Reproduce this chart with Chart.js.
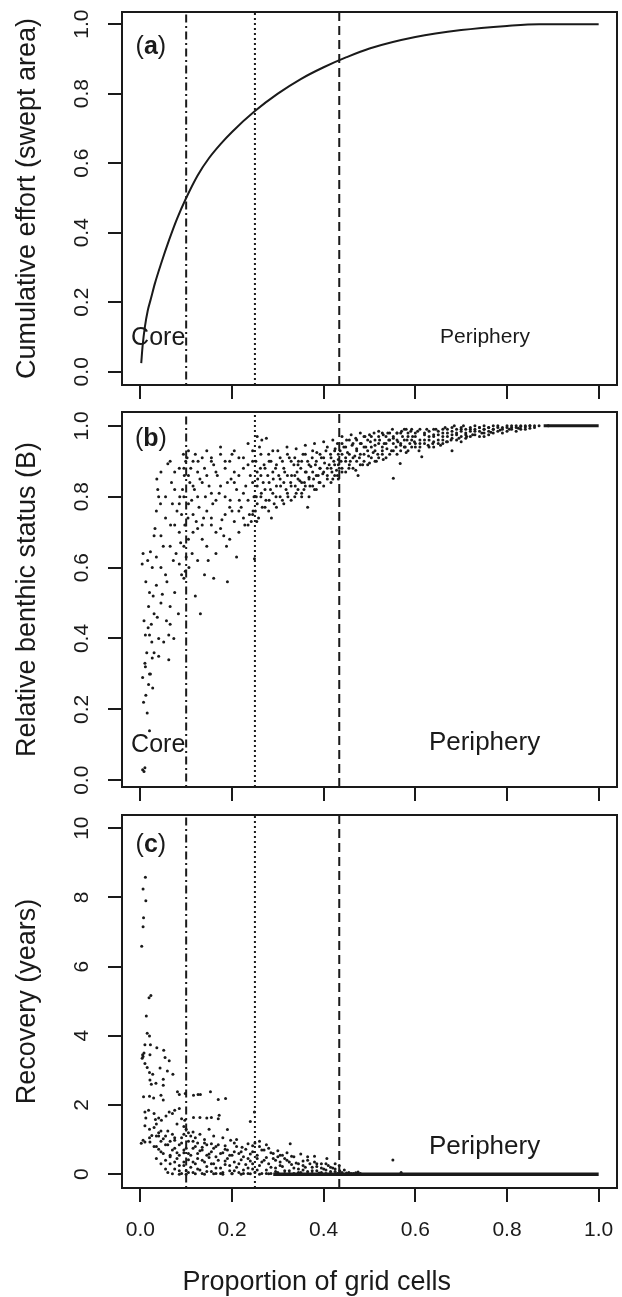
<!DOCTYPE html>
<html>
<head>
<meta charset="utf-8">
<script src="https://cdn.jsdelivr.net/npm/chart.js@4.4.1/dist/chart.umd.min.js"></script>
<style>
  body { margin: 0; background: #fff; }
  #wrap { position: relative; width: 622px; height: 1297px; }
  canvas { position: absolute; left: 0; }
</style>
</head>
<body>
<div id="wrap">
  <canvas id="panelA" width="622" height="400" style="top:0px"></canvas>
  <canvas id="panelB" width="622" height="410" style="top:395px"></canvas>
  <canvas id="panelC" width="622" height="497" style="top:800px"></canvas>
</div>
<script>
// ticks
const xTicks = [0, 0.2, 0.4, 0.6, 0.8, 1.0];
const xTickLabels = ['0.0', '0.2', '0.4', '0.6', '0.8', '1.0'];
const fracTicks = [0, 0.2, 0.4, 0.6, 0.8, 1.0];
const fracLabels = ['0.0', '0.2', '0.4', '0.6', '0.8', '1.0'];
const yearTicks = [0, 2, 4, 6, 8, 10];
const yearLabels = ['0', '2', '4', '6', '8', '10'];

// vertical threshold lines (x position)
const dashDotAt = 0.1;
const dottedAt = 0.25;
const dashedAt = 0.434;

// (a) cumulative effort curve
const effortCurve = [
  [0.002, 0.025], [0.005, 0.075], [0.01, 0.13], [0.016, 0.175], [0.023, 0.21], [0.032, 0.255],
  [0.045, 0.31], [0.063, 0.38], [0.08, 0.44], [0.1, 0.5], [0.125, 0.565], [0.15, 0.615],
  [0.175, 0.655], [0.2, 0.69], [0.25, 0.75], [0.3, 0.8], [0.35, 0.842], [0.4, 0.876],
  [0.45, 0.905], [0.5, 0.93], [0.6, 0.963], [0.7, 0.983], [0.8, 0.995], [0.87, 1.0], [1.0, 1.0]
];

// (b) relative benthic status per grid cell
const benthicPts = [
  [0.005,0.03],[0.008,0.025],[0.01,0.035],[0.007,0.22],[0.015,0.19],[0.02,0.14],[0.012,0.24],[0.018,0.27],
  [0.005,0.29],[0.01,0.33],[0.022,0.3],[0.014,0.36],[0.025,0.39],[0.02,0.41],[0.008,0.45],[0.018,0.49],
  [0.028,0.52],[0.012,0.56],[0.004,0.61],[0.006,0.64],[0.016,0.62],[0.022,0.645],[0.026,0.6],[0.02,0.53],
  [0.03,0.47],[0.024,0.44],[0.03,0.36],[0.027,0.26],[0.011,0.41],[0.017,0.43],
  [0.032,0.71],[0.036,0.85],[0.04,0.8],[0.044,0.78],[0.038,0.82],[0.03,0.69],[0.048,0.525],[0.037,0.46],
  [0.04,0.4],[0.051,0.39],[0.062,0.41],[0.073,0.4],[0.026,0.345],[0.04,0.35],[0.062,0.34],[0.011,0.32],
  [0.02,0.3],[0.06,0.893],[0.055,0.74],[0.05,0.66],[0.045,0.6],[0.058,0.56],[0.066,0.72],[0.07,0.78],
  [0.068,0.84],[0.075,0.87],[0.078,0.64],[0.083,0.47],[0.085,0.7],[0.088,0.67],[0.09,0.58],[0.095,0.57],
  [0.098,0.59],[0.092,0.82],[0.096,0.86],[0.099,0.9],[0.094,0.92],[0.08,0.76],[0.072,0.62],[0.065,0.49],
  [0.057,0.45],[0.086,0.8],[0.09,0.75],[0.097,0.72],[0.1,0.63],
  [0.035,0.55],[0.035,0.63],[0.035,0.76],[0.045,0.5],[0.045,0.69],[0.045,0.87],[0.055,0.58],[0.055,0.8],
  [0.065,0.44],[0.065,0.66],[0.065,0.9],[0.075,0.53],[0.075,0.72],[0.075,0.82],[0.085,0.61],[0.085,0.78],
  [0.085,0.88],[0.095,0.66],[0.095,0.8],[0.095,0.88],
  [0.102,0.91],[0.105,0.93],[0.12,0.92],[0.145,0.93],[0.175,0.94],[0.2,0.92],[0.11,0.88],[0.125,0.87],
  [0.14,0.88],[0.16,0.89],[0.185,0.9],[0.215,0.91],[0.235,0.95],[0.245,0.93],[0.108,0.84],[0.118,0.82],
  [0.13,0.85],[0.15,0.83],[0.168,0.86],[0.19,0.84],[0.205,0.87],[0.225,0.88],[0.24,0.86],[0.112,0.79],
  [0.128,0.77],[0.142,0.8],[0.158,0.78],[0.172,0.81],[0.196,0.79],[0.21,0.82],[0.23,0.83],[0.248,0.8],
  [0.104,0.74],[0.122,0.73],[0.138,0.74],[0.155,0.72],[0.178,0.735],[0.2,0.76],[0.22,0.77],[0.238,0.75],
  [0.246,0.76],[0.115,0.7],[0.135,0.68],[0.165,0.7],[0.188,0.66],[0.21,0.63],[0.12,0.52],[0.131,0.47],
  [0.14,0.58],[0.16,0.57],[0.19,0.56],[0.249,0.625],[0.106,0.6],[0.113,0.64],[0.148,0.62],[0.182,0.69],
  [0.228,0.72],[0.242,0.73],[0.216,0.79],[0.198,0.85],[0.126,0.9],[0.155,0.91],
  [0.105,0.68],[0.105,0.78],[0.105,0.86],[0.115,0.75],[0.115,0.83],[0.115,0.9],[0.125,0.62],[0.125,0.71],
  [0.125,0.8],[0.135,0.72],[0.135,0.84],[0.135,0.91],[0.145,0.66],[0.145,0.76],[0.145,0.86],[0.155,0.74],
  [0.155,0.81],[0.155,0.9],[0.165,0.64],[0.165,0.79],[0.165,0.87],[0.175,0.71],[0.175,0.83],[0.175,0.92],
  [0.185,0.75],[0.185,0.8],[0.185,0.88],[0.195,0.68],[0.195,0.77],[0.195,0.9],[0.205,0.73],[0.205,0.84],
  [0.205,0.93],[0.215,0.7],[0.215,0.76],[0.215,0.86],[0.225,0.74],[0.225,0.81],[0.225,0.91],[0.235,0.72],
  [0.235,0.79],[0.235,0.89],[0.245,0.75],[0.245,0.84],[0.245,0.9]
];

// (b) the dense band towards the periphery
const benthicBandPts = [
  [0.255,0.97],[0.265,0.96],[0.275,0.965],[0.26,0.94],[0.28,0.92],[0.3,0.93],[0.32,0.94],[0.34,0.935],
  [0.36,0.945],[0.38,0.95],[0.4,0.955],[0.42,0.96],[0.43,0.95],
  [0.252,0.9],[0.262,0.88],[0.27,0.89],[0.285,0.9],[0.295,0.88],[0.31,0.9],[0.325,0.91],[0.335,0.89],
  [0.345,0.9],[0.355,0.92],[0.365,0.9],[0.375,0.91],[0.385,0.925],[0.395,0.91],[0.405,0.93],[0.415,0.92],
  [0.425,0.935],
  [0.256,0.85],[0.268,0.84],[0.278,0.86],[0.29,0.85],[0.302,0.86],[0.315,0.87],[0.33,0.86],[0.342,0.87],
  [0.35,0.88],[0.362,0.87],[0.372,0.885],[0.382,0.89],[0.392,0.88],[0.402,0.895],[0.412,0.89],[0.422,0.9],
  [0.432,0.905],
  [0.253,0.8],[0.264,0.81],[0.274,0.79],[0.284,0.82],[0.296,0.8],[0.306,0.83],[0.318,0.82],[0.328,0.84],
  [0.338,0.83],[0.348,0.845],[0.358,0.84],[0.368,0.855],[0.378,0.85],[0.388,0.86],[0.398,0.865],[0.408,0.86],
  [0.418,0.87],[0.428,0.875],
  [0.251,0.76],[0.258,0.74],[0.266,0.77],[0.28,0.76],[0.292,0.78],[0.31,0.79],[0.322,0.8],[0.34,0.81],
  [0.357,0.82],[0.37,0.83],[0.38,0.82],[0.39,0.84],[0.42,0.85],[0.43,0.86],[0.365,0.77],[0.352,0.8],
  [0.286,0.74],[0.254,0.73],[0.434,0.88],
  [0.255,0.78],[0.255,0.83],[0.255,0.87],[0.263,0.8],[0.263,0.86],[0.263,0.92],[0.272,0.77],[0.272,0.82],
  [0.272,0.88],[0.281,0.79],[0.281,0.84],[0.281,0.9],[0.289,0.81],[0.289,0.87],[0.289,0.93],[0.297,0.77],
  [0.297,0.83],[0.297,0.89],[0.305,0.8],[0.305,0.85],[0.305,0.91],[0.313,0.78],[0.313,0.84],[0.313,0.88],
  [0.321,0.81],[0.321,0.86],[0.321,0.92],[0.329,0.79],[0.329,0.83],[0.329,0.9],[0.337,0.8],[0.337,0.86],
  [0.337,0.91],[0.344,0.82],[0.344,0.85],[0.344,0.89],[0.352,0.81],[0.352,0.84],[0.352,0.9],[0.36,0.83],
  [0.36,0.87],[0.36,0.92],[0.368,0.8],[0.368,0.85],[0.368,0.89],[0.376,0.83],[0.376,0.87],[0.376,0.93],
  [0.384,0.82],[0.384,0.86],[0.384,0.9],[0.392,0.84],[0.392,0.88],[0.392,0.92],[0.4,0.83],[0.4,0.87],
  [0.4,0.91],[0.408,0.85],[0.408,0.88],[0.408,0.94],[0.416,0.84],[0.416,0.88],[0.416,0.91],[0.424,0.86],
  [0.424,0.89],[0.424,0.93],[0.432,0.85],[0.432,0.89],[0.432,0.92],
  [0.44,0.97],[0.45,0.96],[0.46,0.975],[0.47,0.965],[0.48,0.98],[0.49,0.97],[0.5,0.975],[0.51,0.98],
  [0.52,0.985],[0.53,0.975],[0.54,0.98],[0.55,0.99],[0.56,0.98],[0.57,0.985],[0.58,0.99],[0.59,0.985],
  [0.436,0.93],[0.444,0.94],[0.452,0.925],[0.462,0.945],[0.472,0.935],[0.482,0.95],[0.492,0.94],[0.502,0.955],
  [0.512,0.945],[0.522,0.96],[0.532,0.95],[0.542,0.96],[0.552,0.965],[0.562,0.955],[0.572,0.97],[0.582,0.96],
  [0.594,0.97],
  [0.438,0.9],[0.448,0.91],[0.458,0.9],[0.468,0.915],[0.478,0.91],[0.488,0.92],[0.498,0.915],[0.508,0.925],
  [0.518,0.92],[0.528,0.93],[0.538,0.935],[0.548,0.93],[0.558,0.94],[0.568,0.945],[0.578,0.94],[0.588,0.95],
  [0.598,0.955],
  [0.44,0.87],[0.455,0.88],[0.47,0.875],[0.485,0.89],[0.5,0.895],[0.515,0.9],[0.53,0.905],[0.552,0.852],
  [0.475,0.86],[0.567,0.894],[0.58,0.925],
  [0.44,0.88],[0.44,0.92],[0.44,0.95],[0.448,0.87],[0.448,0.9],[0.448,0.94],[0.456,0.89],[0.456,0.92],
  [0.456,0.96],[0.464,0.88],[0.464,0.91],[0.464,0.95],[0.472,0.9],[0.472,0.93],[0.472,0.96],[0.48,0.89],
  [0.48,0.92],[0.48,0.95],[0.488,0.9],[0.488,0.94],[0.488,0.97],[0.496,0.89],[0.496,0.93],[0.496,0.96],
  [0.504,0.91],[0.504,0.94],[0.504,0.97],[0.512,0.9],[0.512,0.93],[0.512,0.96],[0.52,0.91],[0.52,0.95],
  [0.52,0.97],[0.528,0.92],[0.528,0.94],[0.528,0.98],[0.536,0.91],[0.536,0.95],[0.536,0.97],[0.544,0.92],
  [0.544,0.96],[0.544,0.98],[0.552,0.93],[0.552,0.95],[0.552,0.97],[0.56,0.92],[0.56,0.96],[0.56,0.98],
  [0.568,0.93],[0.568,0.95],[0.568,0.98],[0.576,0.94],[0.576,0.96],[0.576,0.99],[0.584,0.93],[0.584,0.97],
  [0.584,0.98],[0.592,0.94],[0.592,0.96],[0.592,0.99],
  [0.6,0.94],[0.61,0.95],[0.614,0.913],[0.62,0.96],[0.63,0.97],[0.64,0.975],[0.65,0.96],[0.66,0.98],
  [0.67,0.97],[0.68,0.985],[0.69,0.975],[0.7,0.99],[0.71,0.98],[0.72,0.99],[0.73,0.985],[0.74,0.995],
  [0.75,0.99],[0.76,0.995],[0.77,0.99],[0.78,1.0],[0.79,0.995],[0.8,1.0],[0.81,0.995],[0.82,1.0],
  [0.83,0.998],[0.84,1.0],[0.85,1.0],[0.87,1.0],[0.89,1.0],
  [0.605,0.985],[0.625,0.99],[0.645,0.99],[0.665,0.995],[0.685,1.0],[0.705,1.0],
  [0.608,0.93],[0.628,0.945],[0.638,0.95],[0.655,0.945],[0.668,0.955],[0.678,0.96],[0.695,0.965],[0.712,0.97],
  [0.725,0.975],[0.745,0.98],[0.765,0.982],[0.785,0.988],[0.805,0.99],[0.825,0.993],
  [0.6,0.97],[0.62,0.975],[0.64,0.94],[0.66,0.95],[0.7,0.955],[0.75,0.97],[0.68,0.93],
  [0.6,0.95],[0.6,0.98],[0.61,0.94],[0.61,0.96],[0.61,0.99],[0.62,0.95],[0.62,0.98],[0.63,0.94],
  [0.63,0.96],[0.63,0.985],[0.64,0.955],[0.64,0.97],[0.64,0.99],[0.65,0.95],[0.65,0.975],[0.65,0.985],
  [0.66,0.96],[0.66,0.97],[0.66,0.99],[0.67,0.955],[0.67,0.98],[0.67,0.99],[0.68,0.965],[0.68,0.975],
  [0.68,0.995],[0.69,0.96],[0.69,0.98],[0.69,0.99],[0.7,0.97],[0.7,0.985],[0.7,0.995],[0.71,0.965],
  [0.71,0.975],[0.71,0.99],[0.72,0.97],[0.72,0.985],[0.72,0.995],[0.73,0.975],[0.73,0.99],[0.73,1.0],
  [0.74,0.97],[0.74,0.985],[0.74,0.995],[0.75,0.98],[0.75,0.99],[0.75,1.0],[0.76,0.975],[0.76,0.985],
  [0.76,0.995],[0.77,0.98],[0.77,0.99],[0.77,1.0],[0.78,0.985],[0.78,0.995],[0.79,0.98],[0.79,0.99],
  [0.8,0.985],[0.8,0.995],[0.81,0.99],[0.81,1.0],[0.82,0.985],[0.82,0.995],[0.83,0.99],[0.83,1.0],
  [0.84,0.99],[0.84,0.997],[0.85,0.993],[0.85,1.0],[0.86,0.995],[0.86,1.0]
];
// cells at full status on the right (drawn as a solid run)
const benthicFlat = [[0.88, 1.0], [1.0, 1.0]];

// (c) recovery time in years
const recoveryPts = [
  [0.011,8.58],[0.006,8.24],[0.012,7.9],[0.007,7.41],[0.006,7.15],[0.003,6.59],[0.019,5.1],[0.023,5.16],
  [0.013,4.57],[0.015,4.07],[0.02,3.99],[0.01,3.74],[0.022,3.74],[0.036,3.65],[0.051,3.58],[0.005,3.45],
  [0.006,3.4],[0.004,3.35],[0.008,3.5],[0.021,3.45],[0.054,3.37],[0.063,3.28],[0.01,3.2],[0.043,3.07],
  [0.059,2.98],[0.015,3.08],[0.02,2.94],[0.027,2.89],[0.05,2.74],[0.071,2.89],[0.034,2.63],[0.024,2.6],
  [0.021,2.72],[0.05,2.57],
  [0.007,2.24],[0.02,2.25],[0.029,2.2],[0.045,2.28],[0.085,2.3],[0.116,2.28],[0.131,2.3],[0.153,2.38],
  [0.186,2.19],[0.081,2.38],[0.098,2.33],[0.126,2.3],[0.05,2.14],[0.17,2.16],
  [0.01,1.8],[0.018,1.85],[0.03,1.75],[0.04,1.62],[0.046,1.56],[0.063,1.8],[0.07,1.75],[0.085,1.9],
  [0.09,1.6],[0.097,1.56],[0.116,1.64],[0.13,1.64],[0.145,1.62],[0.155,1.64],[0.17,1.6],[0.172,1.7],
  [0.249,1.8],[0.24,1.52],[0.033,1.58],[0.012,1.62],[0.056,1.68],[0.075,1.85],
  [0.15,1.3],[0.19,1.29],[0.01,1.4],[0.02,1.3],[0.03,1.35],[0.04,1.2],[0.055,1.1],[0.06,1.25],
  [0.07,1.15],[0.08,1.45],[0.09,1.05],[0.1,1.3],[0.105,1.2],[0.11,1.1],[0.12,1.05],[0.13,1.15],
  [0.14,1.0],[0.16,1.1],[0.18,1.05],[0.197,0.98],[0.21,1.0],[0.05,1.02],[0.025,1.12],[0.095,1.38],
  [0.115,1.22],[0.035,1.45],[0.04,1.1],[0.02,1.05],
  [0.002,0.89],[0.01,0.93],[0.006,0.98],[0.021,0.93],[0.03,0.8],[0.04,0.72],[0.05,0.6],[0.06,0.85],
  [0.07,0.7],[0.08,0.62],[0.09,0.9],[0.1,0.75],[0.11,0.55],[0.12,0.8],[0.13,0.68],[0.14,0.9],
  [0.15,0.58],[0.16,0.75],[0.17,0.85],[0.18,0.62],[0.19,0.7],[0.2,0.55],[0.21,0.8],[0.22,0.65],
  [0.23,0.72],[0.24,0.58],[0.25,0.9],[0.26,0.8],[0.27,0.7],[0.28,0.75],[0.29,0.6],[0.3,0.68],
  [0.31,0.55],[0.327,0.88],[0.32,0.62],[0.33,0.52],[0.26,0.95],[0.245,0.82],[0.235,0.88],[0.275,0.85],
  [0.045,0.95],[0.075,0.98],[0.115,0.95],[0.155,0.88],[0.205,0.9],[0.222,0.78],[0.185,0.82],[0.135,0.78],
  [0.095,0.62],[0.065,0.55],[0.35,0.58],[0.365,0.5],[0.38,0.52],[0.3,0.5]
];

// (c) the dense cloud near zero
const recoveryLowPts = [
  [0.055,0.4],[0.06,0.05],[0.065,0.3],[0.075,0.15],[0.08,0.45],[0.085,0.25],[0.09,0.02],[0.095,0.35],
  [0.1,0.1],[0.105,0.42],[0.11,0.2],[0.115,0.05],[0.12,0.3],[0.125,0.45],[0.13,0.12],[0.135,0.02],
  [0.14,0.35],[0.145,0.22],[0.15,0.48],[0.155,0.08],[0.16,0.3],[0.165,0.02],[0.17,0.4],[0.175,0.18],
  [0.18,0.05],[0.185,0.28],[0.19,0.45],[0.195,0.1],[0.2,0.02],[0.205,0.35],[0.21,0.2],[0.215,0.05],
  [0.22,0.42],[0.225,0.12],[0.23,0.28],[0.235,0.02],[0.24,0.38],[0.245,0.15],[0.25,0.05],[0.255,0.45],
  [0.26,0.25],[0.265,0.02],[0.27,0.4],[0.275,0.12],[0.28,0.3],[0.285,0.02],[0.29,0.45],[0.295,0.18],
  [0.3,0.05],[0.305,0.35],[0.31,0.22],[0.315,0.02],[0.32,0.4],[0.325,0.1],[0.33,0.28],[0.335,0.02],
  [0.34,0.32],[0.345,0.15],[0.35,0.05],[0.355,0.38],[0.36,0.2],[0.365,0.02],[0.37,0.3],[0.375,0.1],
  [0.38,0.35],[0.385,0.22],[0.39,0.03],[0.395,0.3],[0.4,0.15],[0.405,0.02],[0.407,0.45],[0.41,0.25],
  [0.415,0.08],[0.42,0.18],[0.425,0.3],[0.43,0.02],[0.434,0.25],[0.44,0.05],[0.445,0.12],[0.45,0.03],
  [0.46,0.02],[0.47,0.04],[0.48,0.02],[0.551,0.41],[0.569,0.05],
  [0.1,0.0],[0.12,0.01],[0.14,0.0],[0.16,0.01],[0.18,0.0],[0.2,0.01],[0.22,0.0],[0.24,0.01],
  [0.26,0.0],[0.28,0.01],[0.07,0.01],[0.085,0.0],
  [0.035,0.45],[0.035,0.8],[0.035,1.1],[0.045,0.3],[0.045,0.65],[0.045,1.25],[0.055,0.15],[0.055,0.85],
  [0.065,0.5],[0.065,0.95],[0.075,0.35],[0.075,0.75],[0.075,1.05],[0.085,0.1],[0.085,0.55],[0.085,0.85],
  [0.095,0.25],[0.095,0.7],[0.095,1.15],[0.105,0.05],[0.105,0.6],[0.105,0.95],[0.115,0.35],[0.115,0.75],
  [0.125,0.15],[0.125,0.6],[0.125,0.9],[0.135,0.4],[0.135,0.7],[0.145,0.08],[0.145,0.55],[0.145,0.85],
  [0.155,0.3],[0.155,0.65],[0.165,0.18],[0.165,0.5],[0.165,0.8],[0.175,0.02],[0.175,0.6],[0.185,0.38],
  [0.185,0.72],[0.195,0.25],[0.195,0.55],[0.205,0.1],[0.205,0.65],[0.215,0.3],[0.215,0.6],[0.225,0.02],
  [0.225,0.5],[0.235,0.18],[0.235,0.45],[0.245,0.3],[0.245,0.65],[0.255,0.12],[0.255,0.55],[0.265,0.35],
  [0.265,0.7],[0.275,0.02],[0.275,0.48],[0.285,0.2],[0.285,0.62],[0.295,0.08],[0.295,0.4],[0.305,0.25],
  [0.305,0.55],[0.315,0.1],[0.315,0.45],[0.325,0.02],[0.325,0.35],[0.335,0.18],[0.335,0.5],[0.345,0.05],
  [0.345,0.3],[0.355,0.12],[0.355,0.25],[0.365,0.08],[0.365,0.4],[0.375,0.02],[0.375,0.2],[0.385,0.1],
  [0.385,0.3],[0.395,0.05],[0.395,0.18],[0.405,0.12],[0.405,0.3],[0.415,0.02],[0.415,0.2],[0.425,0.08],
  [0.425,0.15],[0.435,0.02],[0.435,0.1],[0.455,0.05],[0.465,0.02],[0.475,0.06]
];
// cells with no recovery time (solid run along zero)
const recoveryFlat = [[0.29, 0.0], [1.0, 0.0]];

const ink = '#1a1a1a';
const fontFam = '"Liberation Sans", Arial, Helvetica, sans-serif';

function toXY(pts) {
    return pts.map(p => ({ x: p[0], y: p[1] }));
}

function vLine(xv, yMin, yMax, dash) {
    return {
        type: 'line',
        data: [{ x: xv, y: yMin }, { x: xv, y: yMax }],
        borderColor: ink,
        borderWidth: 2,
        borderDash: dash,
        pointRadius: 0
    };
}

// box, rotated y labels, titles and text in R style
const rStyle = {
    id: 'rStyle',
    afterDatasetsDraw(chart, args, opts) {
        const ctx = chart.ctx;
        const a = chart.chartArea;
        const xs = chart.scales.x, ys = chart.scales.y;
        ctx.save();
        ctx.strokeStyle = ink;
        ctx.lineWidth = 2;
        ctx.strokeRect(a.left, a.top, a.right - a.left, a.bottom - a.top);
        ctx.fillStyle = ink;
        ctx.textAlign = 'center';
        ctx.textBaseline = 'middle';

        // y tick labels, rotated like R's las = 0
        ctx.font = '21px ' + fontFam;
        opts.yTicks.forEach((v, i) => {
            ctx.save();
            ctx.translate(a.left - 40, ys.getPixelForValue(v));
            ctx.rotate(-Math.PI / 2);
            ctx.fillText(opts.yLabels[i], 0, 0);
            ctx.restore();
        });

        // x tick labels (bottom panel only)
        if (opts.xLabels) {
            xTicks.forEach((v, i) => {
                ctx.fillText(xTickLabels[i], xs.getPixelForValue(v), a.bottom + 42);
            });
        }

        // y axis title
        ctx.font = '27px ' + fontFam;
        ctx.save();
        ctx.translate(a.left - 94, (a.top + a.bottom) / 2);
        ctx.rotate(-Math.PI / 2);
        ctx.fillText(opts.yTitle, 0, 0);
        ctx.restore();

        // x axis title
        if (opts.xTitle) {
            ctx.fillText(opts.xTitle, xs.getPixelForValue(0.385), a.bottom + 95);
        }

        // panel tag "(a)" with bold letter
        const tx = xs.getPixelForValue(0.023), ty = ys.getPixelForValue(opts.tagY);
        ctx.font = '25px ' + fontFam;
        const wOpen = ctx.measureText('(').width, wClose = ctx.measureText(')').width;
        ctx.font = 'bold 25px ' + fontFam;
        const wLetter = ctx.measureText(opts.tag).width;
        let left = tx - (wOpen + wLetter + wClose) / 2;
        ctx.textAlign = 'left';
        ctx.font = '25px ' + fontFam;
        ctx.fillText('(', left, ty);
        ctx.font = 'bold 25px ' + fontFam;
        ctx.fillText(opts.tag, left + wOpen, ty);
        ctx.font = '25px ' + fontFam;
        ctx.fillText(')', left + wOpen + wLetter, ty);
        ctx.textAlign = 'center';

        // region notes
        opts.notes.forEach(n => {
            ctx.font = n.size + 'px ' + fontFam;
            ctx.fillText(n.text, xs.getPixelForValue(n.x), ys.getPixelForValue(n.y));
        });
        ctx.restore();
    }
};

function makePanel(id, cfg) {
    const ctx = document.getElementById(id).getContext('2d');
    const datasets = [
        vLine(dashDotAt, cfg.yMin, cfg.yMax, [2, 3.5, 8, 3.5]),
        vLine(dottedAt, cfg.yMin, cfg.yMax, [2, 3]),
        vLine(dashedAt, cfg.yMin, cfg.yMax, [9, 5])
    ].concat(cfg.datasets);

    return new Chart(ctx, {
        type: 'scatter',
        data: { datasets: datasets },
        plugins: [rStyle],
        options: {
            responsive: false,
            animation: false,
            devicePixelRatio: 1,
            events: [],
            layout: { padding: { top: cfg.padTop, right: 5, left: 0, bottom: 0 } },
            scales: {
                x: {
                    type: 'linear',
                    min: -0.04,
                    max: 1.04,
                    afterBuildTicks: s => { s.ticks = xTicks.map(v => ({ value: v })); },
                    afterFit: s => { s.height = cfg.xAxisH; },
                    border: { display: false },
                    grid: { drawOnChartArea: false, drawTicks: true, tickLength: 14, color: ink, lineWidth: 2 },
                    ticks: { display: false }
                },
                y: {
                    type: 'linear',
                    min: cfg.yMin,
                    max: cfg.yMax,
                    afterBuildTicks: s => { s.ticks = cfg.yTicks.map(v => ({ value: v })); },
                    afterFit: s => { s.width = 122; },
                    border: { display: false },
                    grid: { drawOnChartArea: false, drawTicks: true, tickLength: 14, color: ink, lineWidth: 2 },
                    ticks: { display: false }
                }
            },
            plugins: {
                legend: { display: false },
                tooltip: { enabled: false },
                rStyle: {
                    yTicks: cfg.yTicks,
                    yLabels: cfg.yLabels,
                    yTitle: cfg.yTitle,
                    xTitle: cfg.xTitle,
                    xLabels: cfg.showXLabels,
                    tag: cfg.tag,
                    tagY: cfg.tagY,
                    notes: cfg.notes
                }
            }
        }
    });
}

function dots(pts) {
    return {
        data: toXY(pts),
        pointRadius: 1.5,
        pointBackgroundColor: ink,
        pointBorderWidth: 0,
        showLine: false
    };
}

makePanel('panelA', {
    padTop: 12, xAxisH: 15, yMin: -0.038, yMax: 1.035,
    yTicks: fracTicks, yLabels: fracLabels,
    yTitle: 'Cumulative effort (swept area)',
    tag: 'a', tagY: 0.935,
    showXLabels: false,
    notes: [
        { text: 'Core', x: 0.039, y: 0.097, size: 25 },
        { text: 'Periphery', x: 0.752, y: 0.1, size: 21 }
    ],
    datasets: [{
        type: 'line',
        data: toXY(effortCurve),
        borderColor: ink,
        borderWidth: 2,
        pointRadius: 0,
        cubicInterpolationMode: 'monotone'
    }]
});

makePanel('panelB', {
    padTop: 17, xAxisH: 18, yMin: -0.019, yMax: 1.039,
    yTicks: fracTicks, yLabels: fracLabels,
    yTitle: 'Relative benthic status (B)',
    tag: 'b', tagY: 0.962,
    showXLabels: false,
    notes: [
        { text: 'Core', x: 0.039, y: 0.1, size: 25 },
        { text: 'Periphery', x: 0.751, y: 0.105, size: 26 }
    ],
    datasets: [
        dots(benthicPts),
        dots(benthicBandPts),
        { type: 'line', data: toXY(benthicFlat), borderColor: ink, borderWidth: 3, pointRadius: 0 }
    ]
});

makePanel('panelC', {
    padTop: 15, xAxisH: 109, yMin: -0.4, yMax: 10.38,
    yTicks: yearTicks, yLabels: yearLabels,
    yTitle: 'Recovery (years)',
    xTitle: 'Proportion of grid cells',
    tag: 'c', tagY: 9.52,
    showXLabels: true,
    notes: [
        { text: 'Periphery', x: 0.751, y: 0.79, size: 26 }
    ],
    datasets: [
        dots(recoveryPts),
        dots(recoveryLowPts),
        { type: 'line', data: toXY(recoveryFlat), borderColor: ink, borderWidth: 3.5, pointRadius: 0 }
    ]
});
</script>
</body>
</html>
